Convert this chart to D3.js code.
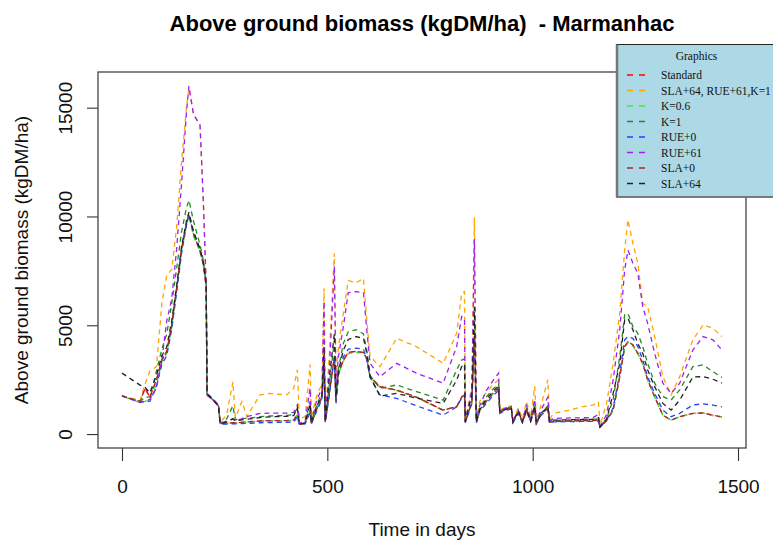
<!DOCTYPE html>
<html>
<head>
<meta charset="utf-8">
<script src="https://cdn.jsdelivr.net/npm/d3@7"></script>
<style>
  body { margin: 0; background: #fff; }
  svg { display: block; }
  .keep-space { white-space: pre; }
</style>
</head>
<body>
<svg id="chart" width="773" height="543"></svg>
<script>
// Simulation days shared by every scenario
const days = [
  0, 44, 56, 68, 84, 97, 109, 121, 133, 145, 157, 163, 174, 190, 198, 205, 207, 220, 235, 239,
  255, 270, 276, 292, 304, 336, 360, 401, 418, 427, 432, 446,
  458, 461, 475, 487, 492, 495, 505, 517, 521, 527, 539, 551, 570, 588, 596, 604, 628, 669, 717, 782, 815, 827, 834, 836, 852, 858, 863,
  871, 887, 905, 917, 920, 935, 948, 952, 965, 975, 985, 995, 1005, 1009, 1020, 1037, 1041,
  1050, 1090, 1122, 1147, 1160, 1164,
  1180, 1196, 1212, 1224, 1232, 1244, 1256, 1268, 1280, 1297, 1317, 1337, 1358, 1390, 1415, 1439, 1461
];

// Above ground biomass (kgDM/ha) per scenario
const standard = [
  1750, 1500, 2100, 1700, 2500, 3400, 3800, 5000, 6700, 8500, 9700, 10100, 9200, 8400, 7800, 6800, 1800, 1600, 1300, 480,
  500, 520, 520, 540, 560, 600, 620, 620, 640, 900, 450, 500,
  1100, 500, 1200, 1700, 3250, 570, 1900, 3550, 1500, 2800, 3400, 3750, 3800, 3750, 3480, 2640, 2180, 2020, 1700, 1100, 1260, 1700, 1800, 550, 1500, 4500, 550,
  1100, 1500, 1900, 2100, 1000, 1150, 1200, 550, 1000, 550, 1100, 600, 1200, 500, 900, 1200, 550,
  580, 600, 620, 620, 650, 330,
  620, 1100, 2640, 4020, 4250, 4100, 3710, 3250, 2490, 1720, 870, 640, 800, 950, 970, 860, 790
];
const slaRueK = [
  1750, 1550, 2300, 2900, 3100, 6000, 7300, 7550, 9500, 12500, 15000, 15900, 14700, 14200, 10800, 6900, 1900, 1650, 1350, 520,
  900, 2400, 750, 1500, 800, 1800, 1870, 1800, 2100, 2950, 700, 800,
  3200, 800, 1800, 2300, 6700, 700, 3700, 8300, 2600, 4000, 5550, 7050, 6950, 7150, 5250, 3560, 3100, 4400, 4020, 3250, 4630, 6470, 6550, 650, 2200, 9950, 700,
  1500, 1900, 2300, 2500, 1100, 1250, 1300, 600, 1200, 700, 1500, 800, 2200, 650, 1300, 2500, 650,
  950, 1100, 1260, 1330, 1490, 400,
  1410, 3250, 5550, 8470, 9850, 8770, 7850, 6010, 5860, 4480, 2640, 1800, 2640, 4330, 5020, 4860, 4480
];
const k06 = [
  1750, 1450, 1500, 1550, 2300, 3300, 3700, 4900, 6600, 8400, 9600, 10000, 9100, 8400, 7800, 6800, 1800, 1600, 1300, 470,
  490, 500, 500, 520, 540, 580, 600, 600, 620, 880, 440, 490,
  1080, 490, 1180, 1650, 3200, 560, 1850, 3500, 1480, 2750, 3350, 3700, 3750, 3700, 3450, 2620, 2160, 2000, 1680, 1090, 1250, 1680, 1780, 540, 1480, 4450, 540,
  1090, 1480, 1880, 2080, 990, 1140, 1190, 540, 990, 540, 1090, 590, 1190, 490, 890, 1190, 540,
  570, 590, 610, 610, 640, 320,
  600, 1080, 2600, 3980, 4200, 4050, 3680, 3220, 2470, 1700, 860, 630, 790, 940, 960, 850, 780
];
const k1 = [
  1750, 1500, 1700, 1700, 2900, 3900, 4600, 6000, 7600, 9300, 10400, 10750, 9800, 8700, 8000, 6900, 1850, 1600, 1300, 500,
  700, 1300, 650, 720, 720, 800, 830, 860, 900, 1200, 500, 560,
  1500, 560, 1400, 1900, 3560, 600, 2300, 4300, 1800, 3000, 4170, 4700, 4800, 4600, 3870, 2700, 2100, 2260, 1950, 1560, 2950, 3400, 3450, 600, 1900, 5500, 600,
  1200, 1700, 2100, 2300, 1050, 1200, 1250, 560, 1050, 560, 1150, 620, 1300, 520, 950, 1300, 560,
  620, 650, 670, 680, 700, 340,
  700, 1600, 3560, 5480, 5550, 4940, 4630, 4020, 3250, 2340, 1720, 1560, 2030, 3100, 3180, 2870, 2600
];
const rue0 = [
  1750, 1450, 1500, 1500, 2200, 3200, 3600, 4800, 6500, 8300, 9600, 10100, 9300, 8500, 7900, 6900, 1800, 1600, 1280, 460,
  460, 470, 470, 480, 490, 520, 530, 540, 550, 800, 420, 470,
  1000, 460, 1100, 1600, 3250, 550, 1800, 3550, 1400, 2700, 3550, 3900, 3950, 3900, 3400, 2600, 1800, 1640, 1300, 870, 1250, 1650, 1800, 520, 1400, 4400, 520,
  1050, 1400, 1800, 2000, 950, 1100, 1150, 520, 950, 520, 1050, 570, 1150, 480, 850, 1150, 520,
  560, 570, 580, 580, 600, 320,
  640, 1200, 2800, 4330, 4480, 4400, 4020, 3400, 2640, 1870, 1100, 800, 950, 1340, 1390, 1330, 1250
];
const rue61 = [
  1750, 1480, 1500, 1600, 2100, 3400, 5200, 6200, 8500, 11500, 14800, 16000, 14700, 14200, 10700, 6800, 1850, 1650, 1320, 490,
  600, 700, 620, 700, 800, 950, 960, 960, 1000, 1350, 500, 600,
  2100, 600, 1600, 2100, 6100, 650, 3000, 7700, 2300, 3550, 4940, 6500, 6550, 6500, 4790, 3250, 2640, 3250, 2800, 2340, 4020, 5400, 5320, 600, 2000, 8950, 650,
  1300, 2000, 2500, 2800, 1050, 1200, 1250, 580, 1100, 600, 1300, 700, 1600, 550, 1100, 1700, 600,
  720, 740, 750, 760, 900, 350,
  900, 2490, 4790, 7550, 8450, 7850, 7390, 5860, 5090, 3710, 2340, 1870, 2340, 3860, 4480, 4330, 3860
];
const sla0 = [
  1750, 1500, 2100, 1700, 2500, 3400, 3800, 5000, 6700, 8500, 9700, 10100, 9200, 8400, 7800, 6800, 1800, 1600, 1300, 480,
  500, 520, 520, 540, 560, 600, 620, 620, 640, 900, 450, 500,
  1100, 500, 1200, 1700, 3250, 570, 1900, 3550, 1500, 2800, 3400, 3750, 3800, 3750, 3480, 2640, 2180, 2020, 1700, 1100, 1260, 1700, 1800, 550, 1500, 4500, 550,
  1100, 1500, 1900, 2100, 1000, 1150, 1200, 550, 1000, 550, 1100, 600, 1200, 500, 900, 1200, 550,
  580, 600, 620, 620, 650, 330,
  620, 1100, 2640, 4020, 4250, 4100, 3710, 3250, 2490, 1720, 870, 640, 800, 950, 970, 860, 790
];
const sla64 = [
  2800, 2250, 2150, 1900, 2700, 3600, 4000, 5200, 6800, 8600, 9800, 10200, 9300, 8500, 7900, 6900, 1850, 1600, 1300, 480,
  560, 700, 600, 650, 680, 760, 790, 820, 850, 1200, 450, 520,
  1400, 520, 1300, 1800, 4000, 580, 2600, 4600, 1700, 2900, 3860, 4350, 4480, 4400, 3710, 2650, 1750, 1870, 1650, 1410, 2480, 3100, 3200, 560, 1800, 5850, 560,
  1150, 1600, 2000, 2200, 1000, 1150, 1200, 560, 1050, 560, 1150, 610, 1300, 510, 950, 1260, 560,
  640, 660, 670, 680, 750, 330,
  700, 1870, 3250, 5250, 5320, 4790, 4170, 3710, 2950, 2180, 1410, 1100, 1560, 2620, 2640, 2520, 2340
];

const seriesNames = ["Standard", "SLA+64, RUE+61,K=1", "K=0.6", "K=1", "RUE+0", "RUE+61", "SLA+0", "SLA+64"];
const seriesValues = [standard, slaRueK, k06, k1, rue0, rue61, sla0, sla64];
const seriesColors = ["#ff0000", "#ffa500", "#3ee83e", "#228b22", "#2244ff", "#a020f0", "#a52a2a", "#222222"];
const xTicks = [0, 500, 1000, 1500];
const yTicks = [0, 5000, 10000, 15000];

const svg = d3.select("#chart");
const plot = { left: 98, right: 746, top: 72, bottom: 448 };

// R-style 4% padding around the data range
const [dMin, dMax] = d3.extent(days);
const xPad = (dMax - dMin) * 0.04;
const vMax = d3.max(seriesValues, s => d3.max(s));
const yPad = vMax * 0.04;

const x = d3.scaleLinear().domain([dMin - xPad, dMax + xPad]).range([plot.left, plot.right]);
const y = d3.scaleLinear().domain([0 - yPad, vMax + yPad]).range([plot.bottom, plot.top]);

const sans = "'Liberation Sans', Arial, Helvetica, sans-serif";
const serif = "'Liberation Serif', 'Times New Roman', serif";

// Title (double space kept as written)
svg.append("text")
  .attr("class", "keep-space")
  .attr("x", (plot.left + plot.right) / 2)
  .attr("y", 31)
  .attr("text-anchor", "middle")
  .attr("font-family", sans)
  .attr("font-weight", "bold")
  .attr("font-size", 22)
  .attr("fill", "#000")
  .text("Above ground biomass (kgDM/ha)  - Marmanhac");

// Series lines
const line = d3.line()
  .x((d, i) => x(days[i]))
  .y(d => y(d));

const dashOffsets = [0, 0, 4.5, 0, 0, 0, 2, 0];
seriesValues.forEach((vals, k) => {
  svg.append("path")
    .datum(vals)
    .attr("d", line)
    .attr("fill", "none")
    .attr("stroke", seriesColors[k])
    .attr("stroke-width", 1.3)
    .attr("stroke-dasharray", "5,4")
    .attr("stroke-dashoffset", dashOffsets[k]);
});

// Axes
const xAxis = svg.append("g")
  .attr("transform", `translate(0,${plot.bottom})`)
  .call(d3.axisBottom(x).tickValues(xTicks).tickSize(13).tickSizeOuter(0).tickFormat(d3.format("d")));
xAxis.select(".domain").remove();
xAxis.selectAll(".tick line").attr("stroke", "#333").attr("stroke-width", 1.1);
xAxis.selectAll(".tick text")
  .attr("y", 45).attr("dy", null)
  .attr("font-family", sans).attr("font-size", 19).attr("fill", "#111");

const yAxis = svg.append("g")
  .attr("transform", `translate(${plot.left},0)`)
  .call(d3.axisLeft(y).tickValues(yTicks).tickSize(11).tickSizeOuter(0).tickFormat(d3.format("d")));
yAxis.select(".domain").remove();
yAxis.selectAll(".tick line").attr("stroke", "#333").attr("stroke-width", 1.1);
yAxis.selectAll(".tick text")
  .attr("x", null).attr("dy", null)
  .attr("transform", "translate(-26,0) rotate(-90)")
  .attr("text-anchor", "middle")
  .attr("font-family", sans).attr("font-size", 19).attr("fill", "#111");

// Plot frame
svg.append("rect")
  .attr("x", plot.left).attr("y", plot.top)
  .attr("width", plot.right - plot.left).attr("height", plot.bottom - plot.top)
  .attr("fill", "none").attr("stroke", "#444").attr("stroke-width", 1.3);

// Axis titles
svg.append("text")
  .attr("x", (plot.left + plot.right) / 2).attr("y", 536)
  .attr("text-anchor", "middle")
  .attr("font-family", sans).attr("font-size", 19).attr("fill", "#111")
  .text("Time in days");
svg.append("text")
  .attr("transform", `translate(28,${(plot.top + plot.bottom) / 2}) rotate(-90)`)
  .attr("text-anchor", "middle")
  .attr("font-family", sans).attr("font-size", 19).attr("fill", "#111")
  .text("Above ground biomass (kgDM/ha)");

// Legend
const lg = svg.append("g").attr("transform", "translate(616.5,44.5)");
lg.append("rect")
  .attr("width", 160).attr("height", 152.5)
  .attr("fill", "#add8e6").attr("stroke", "#222").attr("stroke-width", 1);
lg.append("line")
  .attr("x1", 0.5).attr("x2", 0.5).attr("y1", 0).attr("y2", 152.5)
  .attr("stroke", "#777").attr("stroke-width", 2.5);
lg.append("line")
  .attr("x1", 0).attr("x2", 160).attr("y1", 152.5).attr("y2", 152.5)
  .attr("stroke", "#777").attr("stroke-width", 1.5);
lg.append("text")
  .attr("x", 80).attr("y", 15)
  .attr("text-anchor", "middle")
  .attr("font-family", serif).attr("font-size", 11.5).attr("fill", "#111")
  .text("Graphics");
seriesNames.forEach((name, k) => {
  const yy = 30.5 + k * 15.5;
  lg.append("line")
    .attr("x1", 10.5).attr("x2", 30.5).attr("y1", yy).attr("y2", yy)
    .attr("stroke", seriesColors[k]).attr("stroke-width", 1.3)
    .attr("stroke-dasharray", "6,6");
  lg.append("text")
    .attr("x", 44.5).attr("y", yy + 4)
    .attr("font-family", serif).attr("font-size", 11.5).attr("fill", "#111")
    .text(name);
});
</script>
</body>
</html>
